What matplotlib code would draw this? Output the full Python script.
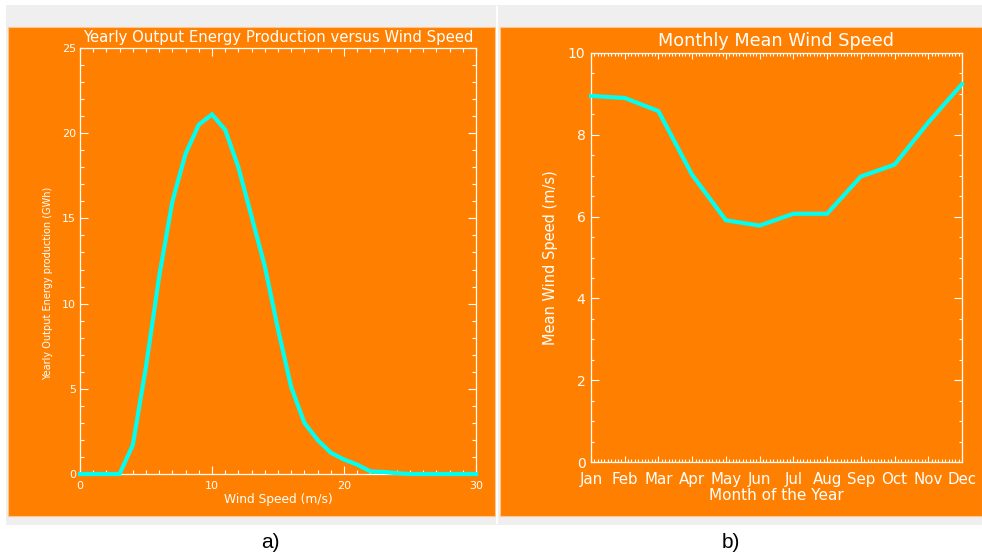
import matplotlib
matplotlib.use("Agg")
import matplotlib.pyplot as plt
from matplotlib.patches import Rectangle
from matplotlib.lines import Line2D
from matplotlib.ticker import MultipleLocator

# ---------------- data ----------------
wind_speed = [0, 1, 2, 3, 4, 5, 6, 7, 8, 9, 10, 11, 12, 13, 14, 15,
              16, 17, 18, 19, 20, 21, 22, 23, 24, 25, 26, 27, 28, 29, 30]
energy_gwh = [0, 0, 0, 0, 1.7, 6.3, 11.6, 16.0, 18.8, 20.5, 21.1, 20.2,
              18.0, 15.1, 12.2, 8.5, 5.1, 3.0, 2.0, 1.25, 0.85, 0.55,
              0.15, 0.12, 0.05, 0, 0, 0, 0, 0, 0]

months = ["Jan", "Feb", "Mar", "Apr", "May", "Jun",
          "Jul", "Aug", "Sep", "Oct", "Nov", "Dec"]
mean_wind = [8.95, 8.90, 8.58, 7.02, 5.91, 5.78,
             6.07, 6.07, 6.98, 7.27, 8.30, 9.24]

W, H = 982, 560
ORANGE = "#FF8000"
CYAN = "#00FFF0"
GRAY = "#EFEFEF"
WHITE = "#FFFFFF"

fig = plt.figure(figsize=(W / 100, H / 100), dpi=100)
fig.patch.set_facecolor("white")


def rect_px(x0, y0, x1, y1, color, edge=None, z=-10):
    r = Rectangle((x0 / W, 1 - y1 / H), (x1 - x0) / W, (y1 - y0) / H,
                  transform=fig.transFigure, facecolor=color,
                  edgecolor=edge if edge else "none", linewidth=0.8 if edge else 0,
                  zorder=z)
    fig.add_artist(r)


def axes_px(x0, y0, x1, y1):
    return fig.add_axes([x0 / W, 1 - y1 / H, (x1 - x0) / W, (y1 - y0) / H])


# background panels
rect_px(6, 5, 982, 525, GRAY, z=-12)
rect_px(8, 27, 495, 516, ORANGE, edge="#FFC58A", z=-11)
rect_px(500, 27, 982, 516, ORANGE, edge="#FFC58A", z=-11)
fig.add_artist(Line2D([497.5 / W, 497.5 / W], [1 - 7 / H, 1 - 523 / H],
                      transform=fig.transFigure, color="white", lw=1.5, zorder=-9))

FONT = "DejaVu Sans"


def style_axes(ax, maj_len, min_len, lab_size):
    ax.set_facecolor("none")
    for s in ax.spines.values():
        s.set_color(WHITE)
        s.set_linewidth(0.9)
    ax.tick_params(which="both", direction="in", top=True, right=True,
                   colors=WHITE, width=0.8, labelsize=lab_size)
    ax.tick_params(which="major", length=maj_len)
    ax.tick_params(which="minor", length=min_len)


# ---------------- left chart ----------------
ax1 = axes_px(80, 48, 476, 474)
ax1.plot(wind_speed, energy_gwh, color=CYAN, lw=3.0, solid_joinstyle="miter",
         clip_on=False, zorder=3)
ax1.set_xlim(0, 30)
ax1.set_ylim(0, 25)
ax1.xaxis.set_major_locator(MultipleLocator(10))
ax1.xaxis.set_minor_locator(MultipleLocator(1))
ax1.yaxis.set_major_locator(MultipleLocator(5))
ax1.yaxis.set_minor_locator(MultipleLocator(1))
style_axes(ax1, 6, 3, 8)
ax1.tick_params(axis="x", which="both", pad=5)
ax1.tick_params(axis="y", which="both", pad=3)
for lab in ax1.get_xticklabels() + ax1.get_yticklabels():
    lab.set_fontfamily(FONT)
ax1.set_title("Yearly Output Energy Production versus Wind Speed",
              color=WHITE, fontsize=10.7, family=FONT, y=(474 - 42) / 426, pad=0)
ax1.set_xlabel("Wind Speed (m/s)", color=WHITE, fontsize=8.8, family=FONT)
ax1.xaxis.set_label_coords(0.5, (474 - 500) / 426)
ax1.xaxis.label.set_va("center")
ax1.set_ylabel("Yearly Output Energy production (GWh)", color=WHITE,
               fontsize=7, family=FONT)
ax1.yaxis.set_label_coords((48 - 80) / 396, (474 - 283) / 426)
ax1.yaxis.label.set_va("center")

# ---------------- right chart ----------------
ax2 = axes_px(591, 53, 962, 462)
x_idx = list(range(len(months)))
ax2.plot(x_idx, mean_wind, color=CYAN, lw=3.0, clip_on=False, zorder=3)
ax2.set_xlim(0, 11)
ax2.set_ylim(0, 10)
ax2.set_xticks(x_idx)
ax2.set_xticklabels(months)
ax2.xaxis.set_minor_locator(MultipleLocator(0.1))
ax2.yaxis.set_major_locator(MultipleLocator(2))
ax2.yaxis.set_minor_locator(MultipleLocator(0.5))
style_axes(ax2, 5.5, 2.5, 10)
ax2.tick_params(axis="x", which="major", length=4.5, labelsize=10.8)
ax2.tick_params(axis="x", which="minor", length=2.2)
ax2.tick_params(axis="x", which="both", pad=7)
ax2.tick_params(axis="y", which="both", pad=4)
for lab in ax2.get_xticklabels() + ax2.get_yticklabels():
    lab.set_fontfamily(FONT)
ax2.set_title("Monthly Mean Wind Speed", color=WHITE, fontsize=12.7,
              family=FONT, y=(462 - 46) / 409, pad=0)
ax2.set_xlabel("Month of the Year", color=WHITE, fontsize=11, family=FONT)
ax2.xaxis.set_label_coords(0.5, (462 - 496) / 409)
ax2.xaxis.label.set_va("center")
ax2.set_ylabel("Mean Wind Speed (m/s)", color=WHITE, fontsize=10.5, family=FONT)
ax2.yaxis.set_label_coords((550 - 591) / 371, 0.5)
ax2.yaxis.label.set_va("center")

# ---------------- captions ----------------
fig.text(270 / W, 1 - 543 / H, "a)", ha="center", va="center",
         fontsize=15, family="Liberation Sans", color="black")
fig.text(731 / W, 1 - 543 / H, "b)", ha="center", va="center",
         fontsize=15, family="Liberation Sans", color="black")

fig.savefig("out.png", dpi=100, facecolor="white")
